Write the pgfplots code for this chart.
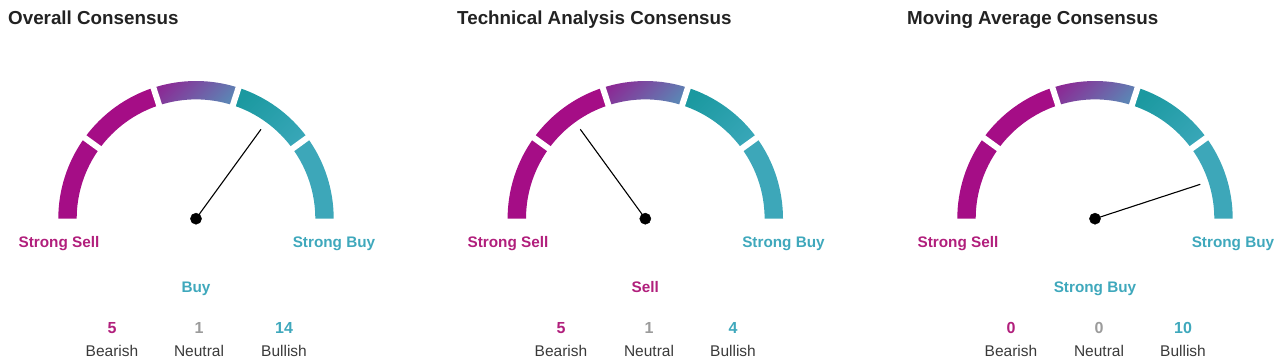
\documentclass[border=0pt]{standalone}
\usepackage{pgfplots}
\pgfplotsset{compat=1.18}
\usepackage{fontspec}
\setmainfont{Liberation Sans}
\usetikzlibrary{calc}
\definecolor{mag}{HTML}{A50D86}
\definecolor{magtxt}{HTML}{B11F7C}
\definecolor{tealA}{HTML}{1B99A0}
\definecolor{tealB}{HTML}{37A6B7}
\definecolor{tealC}{HTML}{3DA7B9}
\definecolor{midA}{HTML}{8B2A95}
\definecolor{midB}{HTML}{5D83B4}
\definecolor{tealtxt}{HTML}{3FA8BC}
\definecolor{graytxt}{HTML}{9B9B9B}
\definecolor{labtxt}{HTML}{3A3A3A}
\definecolor{titletxt}{HTML}{222222}
\newcommand{\titlefont}{\fontsize{18.8bp}{22bp}\selectfont\bfseries}
\newcommand{\edgefont}{\fontsize{15.3bp}{18bp}\selectfont\bfseries}
\newcommand{\numfont}{\fontsize{16bp}{18bp}\selectfont\bfseries}
\newcommand{\labfont}{\fontsize{15.5bp}{18bp}\selectfont}
% #1 cx, #2 cy, #3 a1, #4 a2, #5 style
\newcommand{\segfill}[5]{\fill[#5] ($(axis cs:#1,#2)+(#3:137.7bp)$) arc[start angle=#3,end angle=#4,radius=137.7bp] -- ($(axis cs:#1,#2)+(#4:119.3bp)$) arc[start angle=#4,end angle=#3,radius=119.3bp] -- cycle;}
\newcommand{\segshade}[5]{\shade[#5] ($(axis cs:#1,#2)+(#3:137.7bp)$) arc[start angle=#3,end angle=#4,radius=137.7bp] -- ($(axis cs:#1,#2)+(#4:119.3bp)$) arc[start angle=#4,end angle=#3,radius=119.3bp] -- cycle;}
\newcommand{\gap}[3]{\draw[white,line width=6bp] ($(axis cs:#1,#2)+(#3:114bp)$) -- ($(axis cs:#1,#2)+(#3:143bp)$);}
\newcommand{\gauge}[2]{%
 \segfill{#1}{#2}{180}{144}{mag}
 \segfill{#1}{#2}{144}{108}{mag}
 \segshade{#1}{#2}{108}{72}{top color=midA,bottom color=midB,shading angle=45}
 \segshade{#1}{#2}{72}{36}{top color=tealA,bottom color=tealB,shading angle=45}
 \segfill{#1}{#2}{36}{0}{tealC}
 \gap{#1}{#2}{36}\gap{#1}{#2}{72}\gap{#1}{#2}{108}\gap{#1}{#2}{144}%
}
\begin{document}
\begin{tikzpicture}
\begin{axis}[
  x=1bp, y=1bp, xmin=0, xmax=1280, ymin=0, ymax=363,
  y dir=reverse, hide axis, clip=false]
\path (axis cs:0,0) rectangle (axis cs:1280,363);
% gauges
\gauge{196}{218.7}
\gauge{645.3}{218.7}
\gauge{1095}{218.7}
% needles
\addplot[black, line width=1.1bp] coordinates {(196,218.7) (261,129.3)};
\addplot[black, line width=1.1bp] coordinates {(645.3,218.7) (580.3,129.3)};
\addplot[black, line width=1.1bp] coordinates {(1095,218.7) (1200.3,184.3)};
\addplot[only marks, mark=*, mark size=5.6bp, black] coordinates {(196,218.7) (645.3,218.7) (1095,218.7)};
% titles
\node[anchor=base west, font=\titlefont, text=titletxt, inner sep=0pt] at (axis cs:8,24) {Overall Consensus};
\node[anchor=base west, font=\titlefont, text=titletxt, inner sep=0pt] at (axis cs:457,24) {Technical Analysis Consensus};
\node[anchor=base west, font=\titlefont, text=titletxt, inner sep=0pt] at (axis cs:907,24) {Moving Average Consensus};
% end labels
\node[anchor=base, font=\edgefont, text=magtxt, inner sep=0pt] at (axis cs:59,247) {Strong Sell};
\node[anchor=base, font=\edgefont, text=tealtxt, inner sep=0pt] at (axis cs:334,247) {Strong Buy};
\node[anchor=base, font=\edgefont, text=magtxt, inner sep=0pt] at (axis cs:508,247) {Strong Sell};
\node[anchor=base, font=\edgefont, text=tealtxt, inner sep=0pt] at (axis cs:783.5,247) {Strong Buy};
\node[anchor=base, font=\edgefont, text=magtxt, inner sep=0pt] at (axis cs:958,247) {Strong Sell};
\node[anchor=base, font=\edgefont, text=tealtxt, inner sep=0pt] at (axis cs:1233,247) {Strong Buy};
% verdicts
\node[anchor=base, font=\edgefont, text=tealtxt, inner sep=0pt] at (axis cs:196,292) {Buy};
\node[anchor=base, font=\edgefont, text=magtxt, inner sep=0pt] at (axis cs:645.3,292) {Sell};
\node[anchor=base, font=\edgefont, text=tealtxt, inner sep=0pt] at (axis cs:1095,292) {Strong Buy};
% counts
\node[anchor=base, font=\numfont, text=magtxt, inner sep=0pt] at (axis cs:112,333.5) {5};
\node[anchor=base, font=\numfont, text=graytxt, inner sep=0pt] at (axis cs:199,333.5) {1};
\node[anchor=base, font=\numfont, text=tealtxt, inner sep=0pt] at (axis cs:284,333.5) {14};
\node[anchor=base, font=\numfont, text=magtxt, inner sep=0pt] at (axis cs:561,333.5) {5};
\node[anchor=base, font=\numfont, text=graytxt, inner sep=0pt] at (axis cs:649,333.5) {1};
\node[anchor=base, font=\numfont, text=tealtxt, inner sep=0pt] at (axis cs:733,333.5) {4};
\node[anchor=base, font=\numfont, text=magtxt, inner sep=0pt] at (axis cs:1011,333.5) {0};
\node[anchor=base, font=\numfont, text=graytxt, inner sep=0pt] at (axis cs:1099,333.5) {0};
\node[anchor=base, font=\numfont, text=tealtxt, inner sep=0pt] at (axis cs:1183,333.5) {10};
% count labels
\node[anchor=base, font=\labfont, text=labtxt, inner sep=0pt] at (axis cs:112,356) {Bearish};
\node[anchor=base, font=\labfont, text=labtxt, inner sep=0pt] at (axis cs:199,356) {Neutral};
\node[anchor=base, font=\labfont, text=labtxt, inner sep=0pt] at (axis cs:284,356) {Bullish};
\node[anchor=base, font=\labfont, text=labtxt, inner sep=0pt] at (axis cs:561,356) {Bearish};
\node[anchor=base, font=\labfont, text=labtxt, inner sep=0pt] at (axis cs:649,356) {Neutral};
\node[anchor=base, font=\labfont, text=labtxt, inner sep=0pt] at (axis cs:733,356) {Bullish};
\node[anchor=base, font=\labfont, text=labtxt, inner sep=0pt] at (axis cs:1011,356) {Bearish};
\node[anchor=base, font=\labfont, text=labtxt, inner sep=0pt] at (axis cs:1099,356) {Neutral};
\node[anchor=base, font=\labfont, text=labtxt, inner sep=0pt] at (axis cs:1183,356) {Bullish};
\end{axis}
\end{tikzpicture}
\end{document}
